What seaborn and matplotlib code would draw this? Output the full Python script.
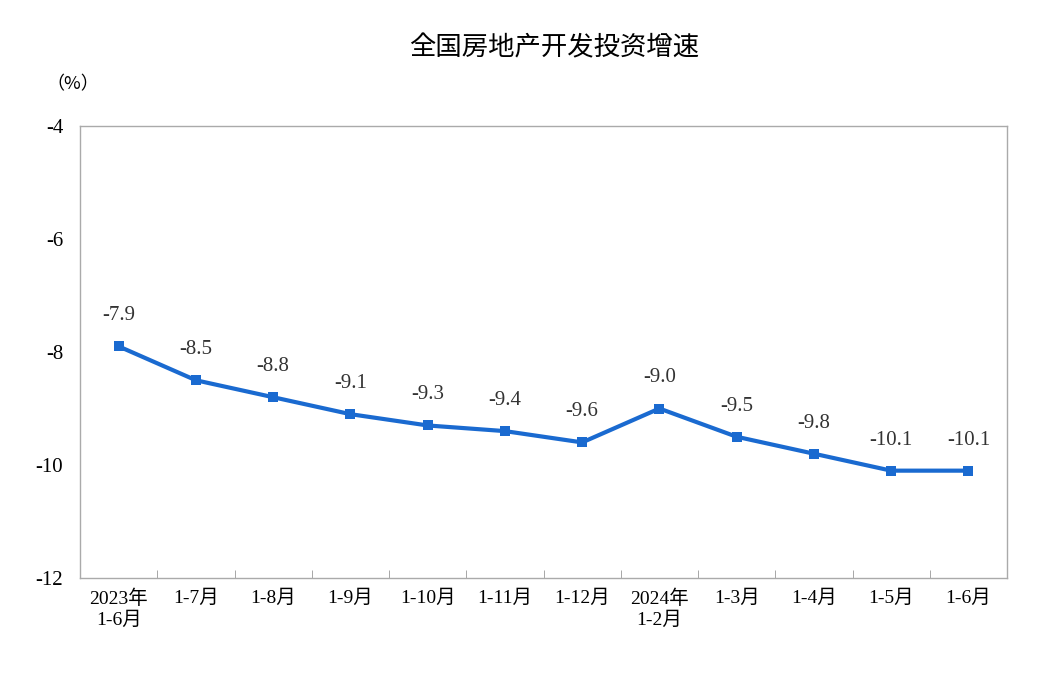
import matplotlib
matplotlib.use("Agg")
import matplotlib.pyplot as plt
from matplotlib import font_manager as fm
import seaborn as sns
import pandas as pd

categories = ["2023年\n1-6月", "1-7月", "1-8月", "1-9月", "1-10月", "1-11月", "1-12月",
              "2024年\n1-2月", "1-3月", "1-4月", "1-5月", "1-6月"]
values = [-7.9, -8.5, -8.8, -9.1, -9.3, -9.4, -9.6, -9.0, -9.5, -9.8, -10.1, -10.1]
yticks = [-4, -6, -8, -10, -12]

cjk_files = [f for f in fm.findSystemFonts() if "CJK" in f or "cjk" in f.lower()]
cjk_files.sort(key=lambda f: (("Regular" not in f), ("SC" not in f), f))
families = []
for f in cjk_files[:4]:
    try:
        fm.fontManager.addfont(f)
        families.append(fm.FontProperties(fname=f).get_name())
    except Exception:
        pass
cjk = families[0] if families else "DejaVu Sans"
plt.rcParams["font.family"] = ["Liberation Serif", cjk, "DejaVu Sans"]

df = pd.DataFrame({"x": range(len(values)), "v": values})

fig = plt.figure(figsize=(10.43, 6.9), dpi=100)
ax = fig.add_axes([0.0767, 0.1623, 0.8888, 0.6551])
color = "#1a6ad0"
sns.lineplot(data=df, x="x", y="v", ax=ax, color=color, linewidth=3,
             marker="s", markersize=7, markeredgewidth=0)
for i, v in enumerate(values):
    ax.annotate(f"{v:.1f}", (i, v), xytext=(0, 22), textcoords="offset points",
                ha="center", va="center", fontsize=15, color="#333333")
ax.set_xlim(-0.5, len(values) - 0.5)
ax.set_ylim(-12, -4)
ax.set_yticks(yticks)
ax.set_yticklabels([str(t) for t in yticks], fontsize=15)
ax.set_xticks(range(len(values)))
ax.set_xticklabels(categories, fontsize=14, linespacing=1.3)
ax.tick_params(axis="x", length=0, pad=8)
ax.tick_params(axis="y", length=0, pad=12)
ax.set_xticks([i + 0.5 for i in range(len(values) - 1)], minor=True)
ax.tick_params(axis="x", which="minor", direction="in", length=6, color="#999999")
for s in ax.spines.values():
    s.set_color("#aaaaaa")
    s.set_linewidth(1)
ax.set_xlabel("")
ax.set_ylabel("")
fig.text(0.531, 0.93, "全国房地产开发投资增速", ha="center", va="center",
         fontsize=19, fontfamily=cjk)
fig.text(0.045, 0.878, "（%）", ha="left", va="center", fontsize=13,
         fontfamily=cjk)
fig.savefig("out.png", dpi=100)
